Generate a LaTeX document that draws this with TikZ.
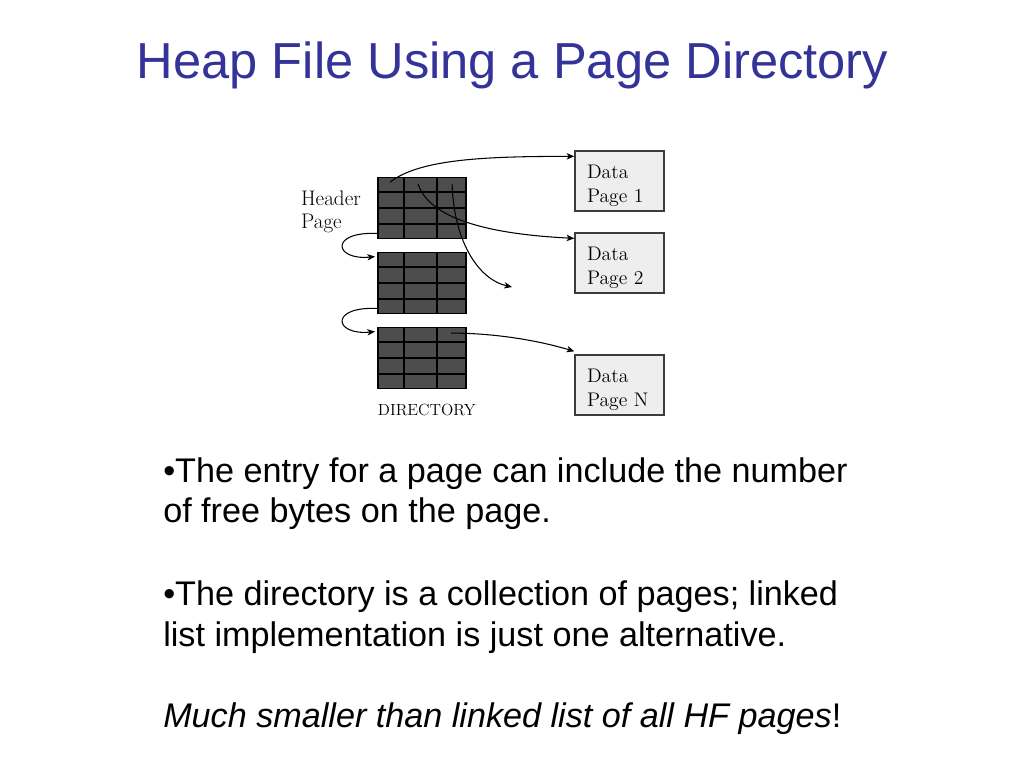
\documentclass[tikz,border=0pt]{standalone}
\usepackage{fontspec}
\usepackage{tikz}
\usetikzlibrary{calc,positioning,arrows.meta}
\newfontfamily\slidefont{Liberation Sans}
\definecolor{titleblue}{RGB}{51,51,153}
\definecolor{blockgray}{RGB}{77,77,77}
\definecolor{pagegray}{RGB}{238,238,238}
\definecolor{edgegray}{RGB}{60,60,60}
\newcommand{\pagestrut}{\rule{0pt}{16.7pt}}
\tikzset{
  dirblock/.style={draw=black,line width=1.3pt,fill=blockgray,minimum width=2.2cm,minimum height=1.525cm,inner sep=0pt},
  datapage/.style={draw=edgegray,line width=0.9pt,fill=pagegray,text width=1.625cm,inner xsep=0.3cm,inner ysep=0pt,
    minimum height=1.5cm,align=left,font=\fontsize{14}{17}\selectfont},
  link/.style={line width=0.75pt,-{Stealth[length=5.5pt,width=4.5pt,inset=1.5pt]}},
  bodyline/.style={anchor=base west,inner sep=0pt,font=\slidefont\fontsize{24.3}{29}\selectfont}
}

\begin{document}
\begin{tikzpicture}[x=0.025cm,y=-0.025cm]
\useasboundingbox (0,0) rectangle (1024,768);
\node[anchor=base,inner sep=0pt,text=titleblue,font=\slidefont\fontsize{36}{43}\selectfont] (title) at (512.5,79) {Heap File Using a Page Directory};

\node[dirblock] (hdr) at (422,208) {};
\node[dirblock] (dir2) at (422,283) {};
\node[dirblock] (dir3) at (422,358) {};
\foreach \b in {hdr,dir2,dir3}{
  \foreach \dx in {27,60}
    \draw[line width=1.3pt] ($(\b.north west)+(\dx,0)$) -- ($(\b.south west)+(\dx,0)$);
  \foreach \f in {0.25,0.5,0.75}
    \draw[line width=1.3pt] ($(\b.north west)!\f!(\b.south west)$) -- ($(\b.north east)!\f!(\b.south east)$);
}
\node[left=0.4cm of hdr,yshift=-0.1cm,align=left,inner sep=0pt,font=\fontsize{15}{16.5}\selectfont] (hdrlabel) {Header\\Page};
\node[below=0.36cm of dir3,xshift=0.12cm,inner sep=0pt,font=\fontsize{11.5}{13}\selectfont] (dirlabel) {DIRECTORY};

\node[datapage] (dp1) at (619.5,181) {\pagestrut Data\\Page 1};
\node[datapage] (dp2) at (619.5,263) {\pagestrut Data\\Page 2};
\node[datapage] (dpN) at (619.5,385) {\pagestrut Data\\Page N};

\coordinate (s1) at ($(hdr.north west)+(13,5.5)$);
\coordinate (s2) at ($(hdr.north west)+(41,7.5)$);
\coordinate (s3) at ($(hdr.north west)+(75,7.5)$);
\coordinate (s6) at ($(dir3.north west)+(74,6.5)$);
\coordinate (freeend) at (512,287);
\draw[link] (s1) .. controls +(30,-23) and +(-90,0) .. ($(dp1.north west)+(0,6)$);
\draw[link] (s2) .. controls +(10,30) and +(-100,-5) .. ($(dp2.north west)+(0,6)$);
\draw[link] (s3) .. controls +(2,60) and +(-32,-7) .. (freeend);
\draw[link] ($(hdr.south west)+(0,-6)$) .. controls +(-48,-2) and +(-41,4) .. ($(dir2.north west)+(-2,5)$);
\draw[link] ($(dir2.south west)+(0,-6)$) .. controls +(-48,-2) and +(-41,4) .. ($(dir3.north west)+(-2,5)$);
\draw[link] (s6) .. controls +(40,0) and +(-40,-12) .. ($(dpN.north west)+(0,-3)$);

\node[bodyline] (entry1) at (163,482) {•The entry for a page can include the number};
\node[bodyline] (entry2) at (163,522) {of free bytes on the page.};
\node[bodyline] (coll1) at (163,605) {•The directory is a collection of pages; linked};
\node[bodyline] (coll2) at (163,646) {list implementation is just one alternative.};
\node[bodyline] (note) at (163,727) {\textit{Much smaller than linked list of all HF pages}!};
\end{tikzpicture}
\end{document}
